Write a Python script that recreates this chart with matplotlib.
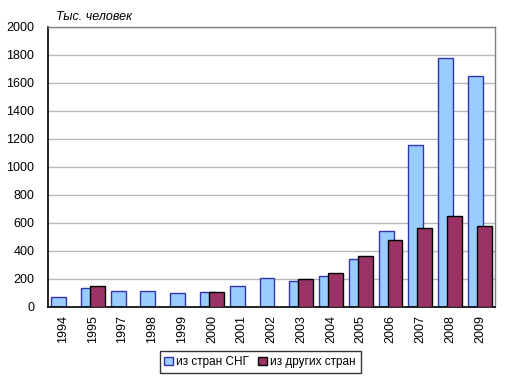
import numpy as np
import matplotlib.pyplot as plt

plt.rcParams['font.family'] = ['Liberation Sans', 'DejaVu Sans']

# Data (thousand people)
years = ['1994', '1995', '1997', '1998', '1999', '2000', '2001', '2002',
         '2003', '2004', '2005', '2006', '2007', '2008', '2009']
cis = [70, 135, 114, 113, 97, 106, 150, 206, 185, 221, 342, 541, 1153, 1777, 1649]
other = [0, 150, 0, 0, 0, 106, 0, 0, 199, 242, 363, 477, 562, 648, 576]

fig = plt.figure(figsize=(5.17, 3.85), dpi=100)
ax = fig.add_axes([0.093, 0.203, 0.864, 0.728])

x = np.arange(len(years))
width = 0.5
ax.bar(x - 0.15, cis, width, color='#99CCFF', edgecolor='#3333B0',
       linewidth=1, label='из стран СНГ', zorder=2)
other_h = [v if v > 0 else np.nan for v in other]
ax.bar(x + 0.15, other_h, width, color='#993366', edgecolor='black',
       linewidth=1, label='из других стран', zorder=3)

ax.set_xlim(-0.5, len(years) - 0.5)
ax.set_ylim(0, 2000)
ax.set_yticks(range(0, 2001, 200))
ax.set_xticks(x)
ax.set_xticklabels(years, rotation=90)
ax.tick_params(axis='both', length=0, labelsize=9, pad=6)
ax.tick_params(axis='y', pad=10)
ax.yaxis.grid(True, color='#B8B8B8', linewidth=1, zorder=0)
ax.set_axisbelow(True)

ax.spines['left'].set_color('black')
ax.spines['bottom'].set_color('black')
ax.spines['left'].set_linewidth(1.2)
ax.spines['bottom'].set_linewidth(1.2)
for s in ['top', 'right']:
    ax.spines[s].set_color('#808080')
    ax.spines[s].set_linewidth(1)

fig.text(0.108, 0.948, 'Тыс. человек', fontsize=9, style='italic')

leg = fig.legend(loc='center', bbox_to_anchor=(0.503, 0.060), ncol=2,
                 fontsize=8.5, frameon=True, fancybox=False, handlelength=0.7,
                 handleheight=0.7, handletextpad=0.3, columnspacing=0.8,
                 borderpad=0.4)
leg.get_frame().set_edgecolor('black')
leg.get_frame().set_linewidth(1)

fig.savefig('out.png', dpi=100)
